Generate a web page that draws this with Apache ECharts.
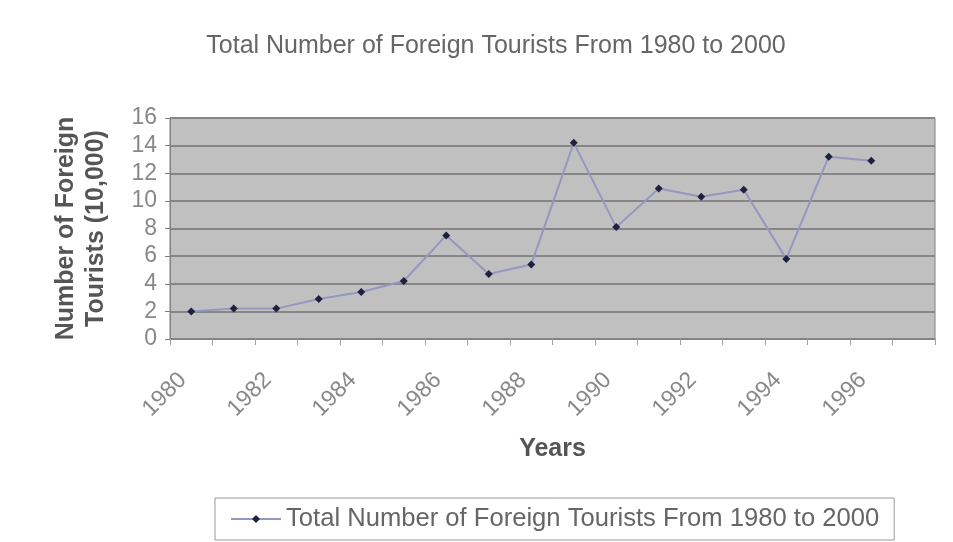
<!DOCTYPE html>
<html>
<head>
<meta charset="utf-8">
<script src="https://cdn.jsdelivr.net/npm/echarts@6/dist/echarts.min.js"></script>
<style>
  html, body { margin: 0; padding: 0; background: #ffffff; }
  #chart { width: 953px; height: 542px; }
</style>
</head>
<body>
<div id="chart"></div>
<script>
const titleText = 'Total Number of Foreign Tourists From 1980 to 2000';
const seriesName = 'Total Number of Foreign Tourists From 1980 to 2000';
const years = ['1980','1981','1982','1983','1984','1985','1986','1987','1988','1989','1990','1991','1992','1993','1994','1995','1996','1997'];
const tourists = [2.0, 2.2, 2.2, 2.9, 3.4, 4.2, 7.5, 4.7, 5.4, 14.2, 8.1, 10.9, 10.3, 10.8, 5.8, 13.2, 12.9, null];
const yTicks = { min: 0, max: 16, interval: 2 };

const FONT = 'Liberation Sans, Arial, sans-serif';
const chart = echarts.init(document.getElementById('chart'), null, { renderer: 'canvas' });
chart.setOption({
  animation: false,
  backgroundColor: '#ffffff',
  title: {
    text: titleText,
    left: 491,
    top: 29,
    textAlign: 'center',
    textStyle: { fontFamily: FONT, fontSize: 25, fontWeight: 'normal', color: '#666' }
  },
  legend: {
    bottom: 2,
    left: 215,
    data: [seriesName],
    itemWidth: 50,
    itemHeight: 10,
    itemGap: 10,
    padding: [8, 15, 8, 15],
    borderColor: '#999',
    borderWidth: 1,
    textStyle: { fontFamily: FONT, fontSize: 25.6, color: '#666' }
  },
  grid: { left: 170, right: 18, top: 118, bottom: 203, show: true, backgroundColor: '#c0c0c0', borderColor: '#808080', borderWidth: 1 },
  xAxis: {
    type: 'category',
    data: years,
    boundaryGap: true,
    name: 'Years',
    nameLocation: 'middle',
    nameGap: 98,
    nameTextStyle: { fontFamily: FONT, fontSize: 25, fontWeight: 'bold', color: '#555' },
    axisLine: { lineStyle: { color: '#808080' } },
    axisTick: { show: true, interval: 0, length: 6, lineStyle: { color: '#a0a0a0' } },
    axisLabel: { interval: 1, rotate: 45, margin: 29, padding: [0, 12, 0, 0], fontFamily: FONT, fontSize: 23, color: '#888' },
    splitLine: { show: false }
  },
  yAxis: {
    type: 'value',
    min: yTicks.min,
    max: yTicks.max,
    interval: yTicks.interval,
    name: 'Number of Foreign\nTourists (10,000)',
    nameLocation: 'middle',
    nameRotate: 90,
    nameGap: 59,
    nameTextStyle: { fontFamily: FONT, fontSize: 25, fontWeight: 'bold', color: '#555', lineHeight: 30 },
    axisLine: { show: true, lineStyle: { color: '#808080' } },
    axisTick: { show: true, length: 5, lineStyle: { color: '#808080' } },
    axisLabel: { margin: 13, fontFamily: FONT, fontSize: 23, color: '#888' },
    splitLine: { show: true, lineStyle: { color: '#868686', width: 2 } }
  },
  series: [{
    name: seriesName,
    type: 'line',
    data: tourists,
    symbol: 'diamond',
    symbolSize: 8,
    itemStyle: { color: '#1e2040' },
    lineStyle: { color: '#9597c0', width: 2 }
  }]
});
</script>
</body>
</html>
